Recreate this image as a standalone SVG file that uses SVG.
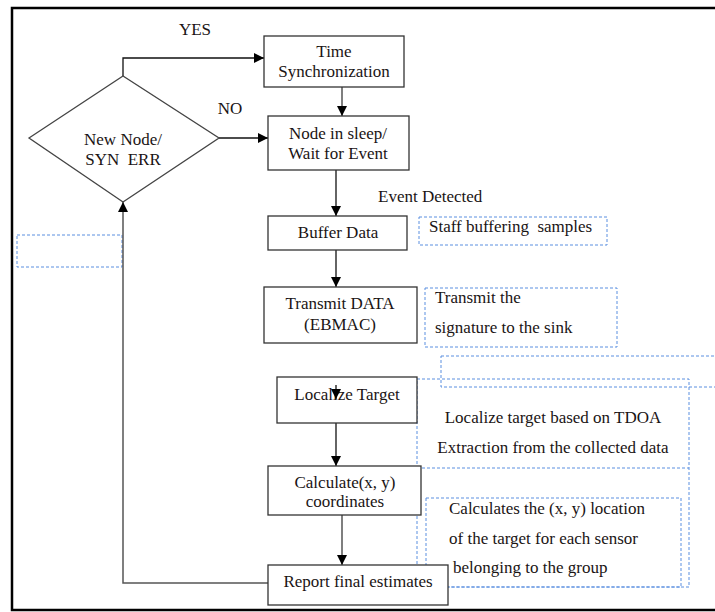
<svg xmlns="http://www.w3.org/2000/svg" width="715" height="612" viewBox="0 0 715 612">
<defs>
<marker id="ah" viewBox="0 0 10 10" refX="10" refY="5" markerWidth="10" markerHeight="10" markerUnits="userSpaceOnUse" orient="auto">
<path d="M0,0 L10,5 L0,10 Z" fill="#000"/>
</marker>
</defs>
<style>
.box{fill:#fff;stroke:#333;stroke-width:1.3}
.dash{fill:none;stroke:#5b8fe0;stroke-width:1;stroke-dasharray:3 2}
text{font-family:'Liberation Serif','DejaVu Serif','Times New Roman',serif;font-size:17px;fill:#1a1414;white-space:pre}
.m{text-anchor:middle}
.c{fill:none;stroke:#111;stroke-width:1.3}
.g{fill:none;stroke:#555;stroke-width:1.5}
</style>
<rect x="0" y="0" width="715" height="612" fill="#fff"/>
<rect x="12" y="8" width="710" height="602" fill="#fff" stroke="#000" stroke-width="2.5"/>

<g id="annotations">
<rect class="dash" x="17" y="235" width="105" height="32"/>
<rect class="dash" x="419" y="217" width="188" height="28"/>
<rect class="dash" x="425" y="288" width="192" height="59"/>
<rect class="dash" x="441" y="356" width="290" height="31"/>
<rect class="dash" x="417" y="379" width="272" height="208"/>
<line class="dash" x1="417" y1="468" x2="689" y2="468"/>
<rect class="dash" x="426" y="498" width="255" height="89"/>
</g>

<g id="connectors">
<polyline class="c" points="123,76 123,58 264,58" marker-end="url(#ah)"/>
<line class="c" x1="219" y1="138" x2="268" y2="138" marker-end="url(#ah)"/>
<line class="g" x1="342" y1="87" x2="342" y2="116" marker-end="url(#ah)"/>
<line class="c" x1="336" y1="170" x2="336" y2="216" marker-end="url(#ah)"/>
<line class="c" x1="336" y1="250" x2="336" y2="287" marker-end="url(#ah)"/>
<line class="c" x1="336" y1="423" x2="336" y2="466" marker-end="url(#ah)"/>
<line class="g" x1="342" y1="515" x2="342" y2="565" marker-end="url(#ah)"/>
<polyline class="g" points="268,583 123,583 123,202" marker-end="url(#ah)"/>
</g>

<g id="decision">
<polygon points="29,138 123,76 219,138 123,202" fill="#fff" stroke="#444" stroke-width="1.3"/>
<text class="m" x="123" y="145">New Node/</text>
<text class="m" x="123" y="165">SYN  ERR</text>
</g>
<text class="m" x="195" y="35">YES</text>
<text class="m" x="230" y="114">NO</text>

<g id="time-sync">
<rect class="box" x="264" y="36" width="140" height="51"/>
<text class="m" x="334" y="57">Time</text>
<text class="m" x="334" y="77">Synchronization</text>
</g>

<g id="sleep">
<rect class="box" x="268" y="116" width="141" height="54"/>
<text class="m" x="338" y="139">Node in sleep/</text>
<text class="m" x="338" y="159">Wait for Event</text>
</g>

<text x="378" y="202">Event Detected</text>

<g id="buffer">
<rect class="box" x="268" y="216" width="139" height="34"/>
<text class="m" x="338" y="238">Buffer Data</text>
</g>
<text x="429" y="232">Staff buffering  samples</text>

<g id="transmit">
<rect class="box" x="264" y="287" width="153" height="56"/>
<text class="m" x="340" y="309">Transmit DATA</text>
<text class="m" x="340" y="330">(EBMAC)</text>
</g>
<text x="435" y="303">Transmit the</text>
<text x="435" y="333">signature to the sink</text>

<g id="localize">
<rect class="box" x="277" y="377" width="140" height="46"/>
<text class="m" x="347" y="400">Localize Target</text>
</g>
<line class="c" x1="336" y1="385" x2="336" y2="399" marker-end="url(#ah)"/>
<text class="m" x="553" y="423">Localize target based on TDOA</text>
<text class="m" x="553" y="453">Extraction from the collected data</text>

<g id="calculate">
<rect class="box" x="268" y="466" width="153" height="49"/>
<text class="m" x="345" y="488">Calculate(x, y)</text>
<text class="m" x="345" y="507">coordinates</text>
</g>
<text x="449" y="514">Calculates the (x, y) location</text>
<text x="449" y="544">of the target for each sensor</text>
<text x="453" y="573">belonging to the group</text>

<g id="report">
<rect class="box" x="268" y="565" width="180" height="40"/>
<text class="m" x="358" y="587">Report final estimates</text>
</g>
</svg>
